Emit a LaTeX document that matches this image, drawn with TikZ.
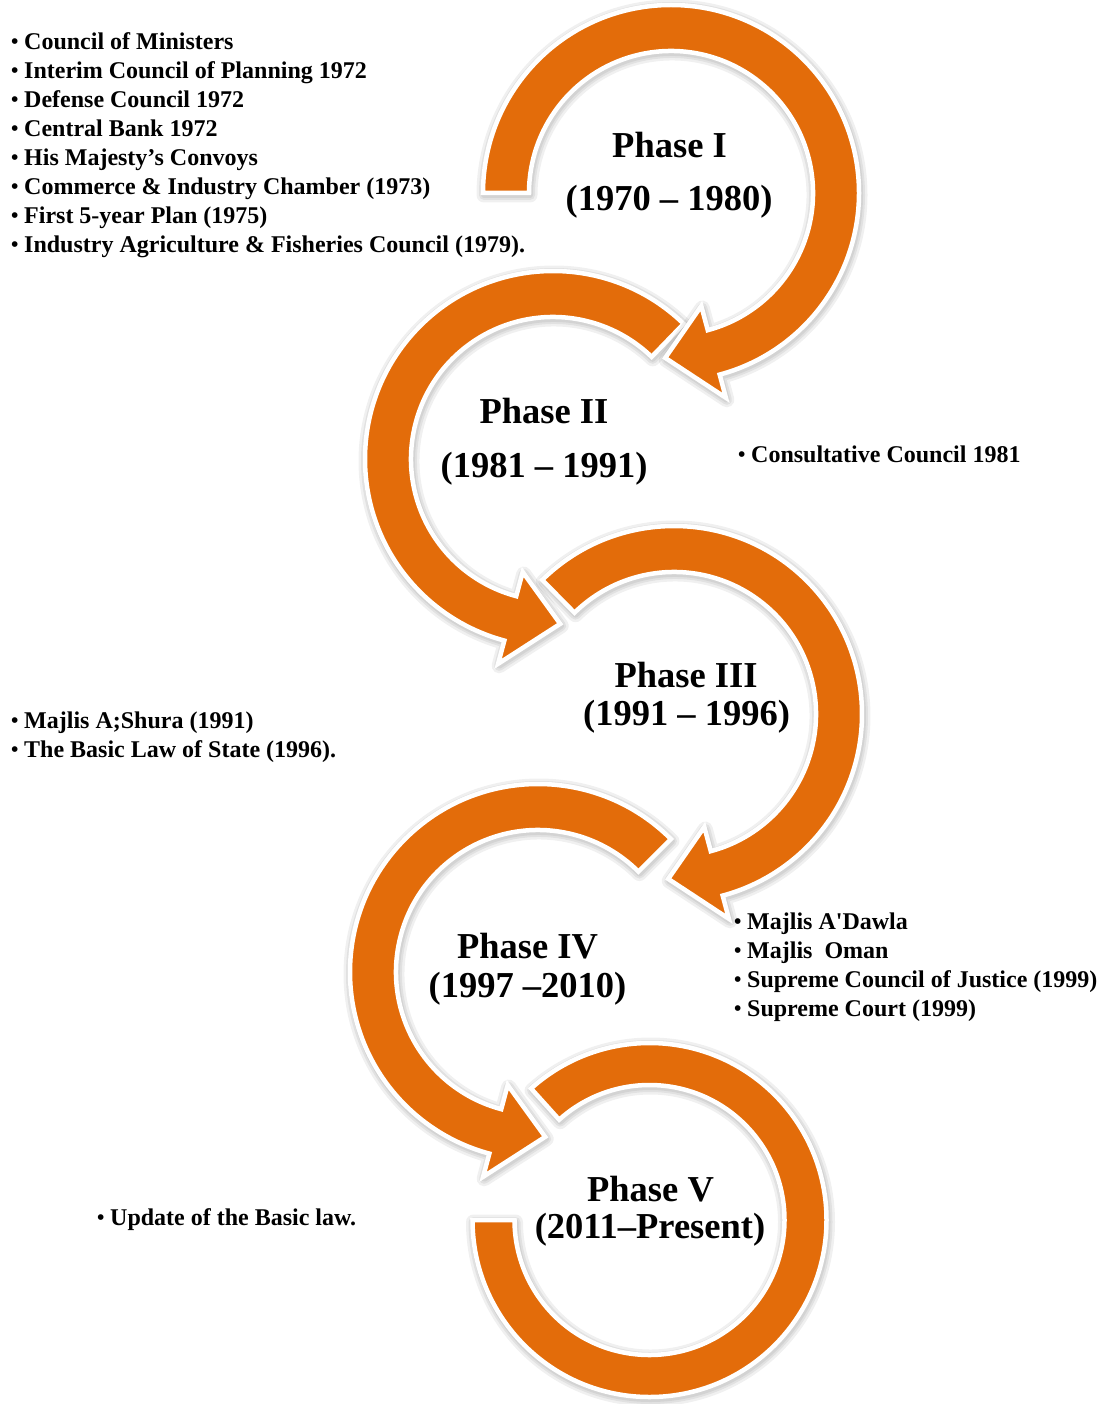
\documentclass[tikz,border=0pt]{standalone}
\usepackage{fontspec}
\setmainfont{Liberation Serif}
\definecolor{orangeA}{RGB}{227,108,10}
\newcommand{\bul}{\makebox[14pt][l]{\hspace{1pt}\raisebox{1pt}{\fontsize{21}{21}\selectfont\textbullet}}}
% arrow outline (relative to its centre): start angle, base angle, tip angle
\newcommand{\arrowpath}[3]{(#1:188) arc[start angle=#1, end angle=#2, radius=188] -- (#2:212) -- (#3:165) -- (#2:117) -- (#2:142) arc[start angle=#2, end angle=#1, radius=142] -- cycle}
\newcommand{\ringpath}[2]{(#1:177) arc[start angle=#1, end angle=#2, radius=177] -- (#2:135) arc[start angle=#2, end angle=#1, radius=135] -- cycle}
\begin{document}
\begin{tikzpicture}[x=1pt,y=-1pt,
  band/.style={fill=orangeA, draw=white, line width=4.5pt, line join=miter},
  halo/.style={draw=black, line join=round, opacity=0.06, line width=#1},
  phase/.style={font=\fontsize{36.5}{40}\selectfont\bfseries, inner sep=0pt, anchor=base},
  item/.style={font=\fontsize{24}{29}\selectfont\bfseries, inner sep=0pt, anchor=base west}]
\useasboundingbox[fill=white] (0,0) rectangle (1099,1404);

% ---- Phase V ring (no head)
\begin{scope}[shift={(649.5,1220)}]
  \foreach \w in {15,10,6} \path[halo=\w pt, shift={(1,2)}] \ringpath{180}{-132};
  \path[band] \ringpath{180}{-132};
\end{scope}
% ---- Phase IV arrow
\begin{scope}[shift={(538,972)}]
  \foreach \w in {15,10,6} \path[halo=\w pt, shift={(1,2)}] \arrowpath{-45}{-255}{-272.5};
  \path[band] \arrowpath{-45}{-255}{-272.5};
\end{scope}
% ---- Phase III arrow
\begin{scope}[shift={(674,714)}]
  \foreach \w in {15,10,6} \path[halo=\w pt, shift={(1,2)}] \arrowpath{-134.5}{75}{92};
  \path[band] \arrowpath{-134.5}{75}{92};
\end{scope}
% ---- Phase II arrow
\begin{scope}[shift={(553,459)}]
  \foreach \w in {15,10,6} \path[halo=\w pt, shift={(1,2)}] \arrowpath{-46}{-255}{-272.5};
  \path[band] \arrowpath{-46}{-255}{-272.5};
\end{scope}
% ---- Phase I arrow
\begin{scope}[shift={(671,193)}]
  \foreach \w in {15,10,6} \path[halo=\w pt, shift={(1,2)}] \arrowpath{180}{435}{452};
  \path[band] \arrowpath{180}{435}{452};
\end{scope}

% ---- phase labels
\node[phase] (p1a) at (669.5,158) {Phase I};
\node[phase] (p1b) at (669,211) {(1970 \textendash{} 1980)};
\node[phase] (p2a) at (544,423) {Phase II};
\node[phase] (p2b) at (544,477) {(1981 \textendash{} 1991)};
\node[phase] (p3a) at (686,687) {Phase III};
\node[phase] (p3b) at (686.5,725) {(1991 \textendash{} 1996)};
\node[phase] (p4a) at (527.5,958) {Phase IV};
\node[phase] (p4b) at (527.5,997) {(1997 \textendash2010)};
\node[phase] (p5a) at (650.5,1201) {Phase V};
\node[phase] (p5b) at (650,1238) {(2011\textendash Present)};

% ---- bullet lists
\foreach \t [count=\i from 0] in {Council of Ministers, Interim Council of Planning 1972, Defense Council 1972, Central Bank 1972, His Majesty’s Convoys, Commerce \& Industry Chamber (1973), First 5-year Plan (1975), Industry Agriculture \& Fisheries Council (1979).}
  \node[item] (a\i) at (10,50+29*\i) {\bul\t};
\node[item] (b0) at (737,462) {\bul Consultative Council 1981};
\foreach \t [count=\i from 0] in {Majlis A;Shura (1991), The Basic Law of State (1996).}
  \node[item] (c\i) at (10,728+29*\i) {\bul\t};
\foreach \t [count=\i from 0] in {Majlis A\textquotesingle Dawla, Majlis\ \ Oman, Supreme Council of Justice (1999), Supreme Court (1999)}
  \node[item] (d\i) at (733,929+29*\i) {\bul\t};
\node[item] (e0) at (96,1225) {\bul Update of the Basic law.};
\end{tikzpicture}
\end{document}
